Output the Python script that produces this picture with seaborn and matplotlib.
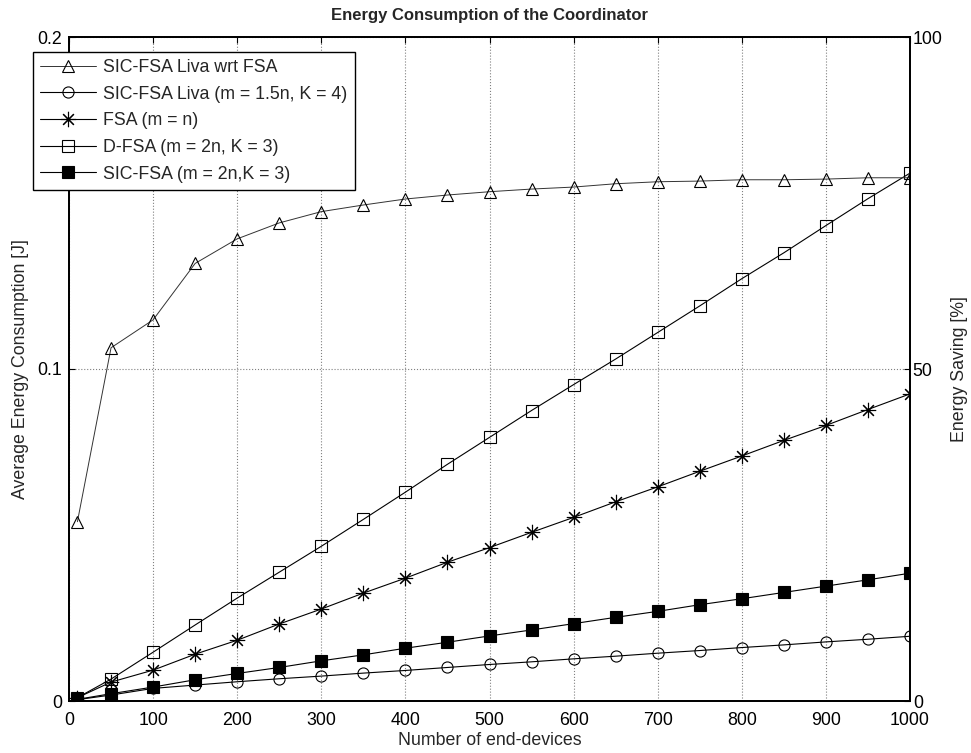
import numpy as np
import pandas as pd
import matplotlib
matplotlib.use("Agg")
import matplotlib.pyplot as plt
import seaborn as sns

# ---- data ----
n_devices = [10, 50, 100, 150, 200, 250, 300, 350, 400, 450, 500,
             550, 600, 650, 700, 750, 800, 850, 900, 950, 1000]

saving_liva_wrt_fsa = [27.0, 53.2, 57.4, 65.9, 69.6, 72.0, 73.7, 74.7, 75.6, 76.2, 76.7,
                       77.1, 77.4, 77.9, 78.2, 78.3, 78.5, 78.5, 78.6, 78.8, 78.8]

sic_fsa_liva = [0.0004, 0.0018, 0.0038, 0.0048, 0.0058, 0.0067, 0.0075, 0.0084, 0.0092, 0.0101, 0.0110,
                0.0118, 0.0127, 0.0135, 0.0144, 0.0152, 0.0161, 0.0169, 0.0178, 0.0186, 0.0195]

fsa = [0.0010, 0.0057, 0.0093, 0.0141, 0.0183, 0.0232, 0.0277, 0.0325, 0.0370, 0.0418, 0.0462,
       0.0508, 0.0553, 0.0600, 0.0645, 0.0692, 0.0738, 0.0785, 0.0830, 0.0878, 0.0925]

d_fsa = [0.0010, 0.0066, 0.0147, 0.0229, 0.0310, 0.0388, 0.0466, 0.0547, 0.0629, 0.0713, 0.0794,
         0.0875, 0.0953, 0.1030, 0.1110, 0.1190, 0.1272, 0.1350, 0.1432, 0.1513, 0.1590]

sic_fsa = [0.0005, 0.0022, 0.0042, 0.0064, 0.0083, 0.0101, 0.0121, 0.0139, 0.0159, 0.0177, 0.0196,
           0.0214, 0.0233, 0.0252, 0.0270, 0.0290, 0.0308, 0.0327, 0.0346, 0.0365, 0.0385]

labels = ["SIC-FSA Liva wrt FSA",
          "SIC-FSA Liva (m = 1.5n, K = 4)",
          "FSA (m = n)",
          "D-FSA (m = 2n, K = 3)",
          "SIC-FSA (m = 2n,K = 3)"]

x_ticks = [0, 100, 200, 300, 400, 500, 600, 700, 800, 900, 1000]
y_ticks = [0, 0.1, 0.2]
y2_ticks = [0, 50, 100]

# ---- style ----
sns.set_theme(style="white")
plt.rcParams["font.family"] = ["Liberation Sans", "DejaVu Sans"]
plt.rcParams["xtick.direction"] = "in"
plt.rcParams["ytick.direction"] = "in"

FS = 12.8

fig = plt.figure(figsize=(9.71, 7.53), dpi=100)
ax = fig.add_axes([69 / 971, 1 - 701 / 753, (910 - 69) / 971, (701 - 37) / 753])
ax2 = ax.twinx()

common = dict(color="black", linewidth=0.8, markersize=8,
              markeredgecolor="black", markeredgewidth=0.8)

sns.lineplot(x=n_devices, y=sic_fsa_liva, ax=ax, marker="o", markerfacecolor="none",
             label=labels[1], **common)
sns.lineplot(x=n_devices, y=fsa, ax=ax, marker=(8, 2, 0), markersize=11,
             label=labels[2], color="black", linewidth=0.8,
             markeredgecolor="black", markeredgewidth=0.8)
sns.lineplot(x=n_devices, y=d_fsa, ax=ax, marker="s", markerfacecolor="none",
             label=labels[3], **common)
sns.lineplot(x=n_devices, y=sic_fsa, ax=ax, marker="s", markerfacecolor="black",
             label=labels[4], **common)
sns.lineplot(x=n_devices, y=saving_liva_wrt_fsa, ax=ax2, marker="^", markerfacecolor="none",
             label=labels[0], **{**common, "color": "#333333", "linewidth": 0.7})

h1, l1 = ax.get_legend_handles_labels()
h2, l2 = ax2.get_legend_handles_labels()
for a in (ax, ax2):
    if a.get_legend() is not None:
        a.get_legend().remove()

handles = h2 + h1
leg = ax2.legend(handles, l2 + l1, loc="upper left",
                 bbox_to_anchor=(33 / 971, 1 - 52 / 753), bbox_transform=fig.transFigure,
                 fontsize=FS, frameon=True, fancybox=False, framealpha=1,
                 edgecolor="black", handlelength=3.15, handletextpad=0.4,
                 labelspacing=0.54, borderpad=0.4, borderaxespad=0)
leg.get_frame().set_linewidth(1.0)

# axes
ax.set_xlim(0, 1000)
ax.set_ylim(0, 0.2)
ax2.set_ylim(0, 100)
ax.set_xticks(x_ticks)
ax.set_xticklabels([str(v) for v in x_ticks])
ax.set_yticks(y_ticks)
ax.set_yticklabels(["0", "0.1", "0.2"])
ax2.set_yticks(y2_ticks)
ax2.set_yticklabels(["0", "50", "100"])

ax.grid(True, which="major", linestyle=":", color="#808080", linewidth=0.8)
ax.set_axisbelow(True)

ax.tick_params(axis="both", which="both", direction="in", length=4, width=0.8,
               labelsize=FS, colors="black", top=True)
ax.tick_params(axis="x", pad=8)
ax.tick_params(axis="y", pad=5)
ax2.tick_params(axis="y", direction="in", length=4, width=0.8, labelsize=FS, pad=2,
                colors="black")
# nudge the right-axis "0" so it clears the "1000" below it
ax2.get_yticklabels()[0].set_verticalalignment("center_baseline")

for a in (ax, ax2):
    for s in a.spines.values():
        s.set_color("black")
        s.set_linewidth(1.3)

ax.set_xlabel("Number of end-devices", fontsize=FS, labelpad=2)
ax.set_ylabel("Average Energy Consumption [J]", fontsize=FS, labelpad=6)
ax2.set_ylabel("Energy Saving [%]", fontsize=FS, labelpad=6)
ax.set_title("Energy Consumption of the Coordinator", fontsize=12, fontweight="bold", pad=12)

fig.savefig("out.png", dpi=100, facecolor="white")
